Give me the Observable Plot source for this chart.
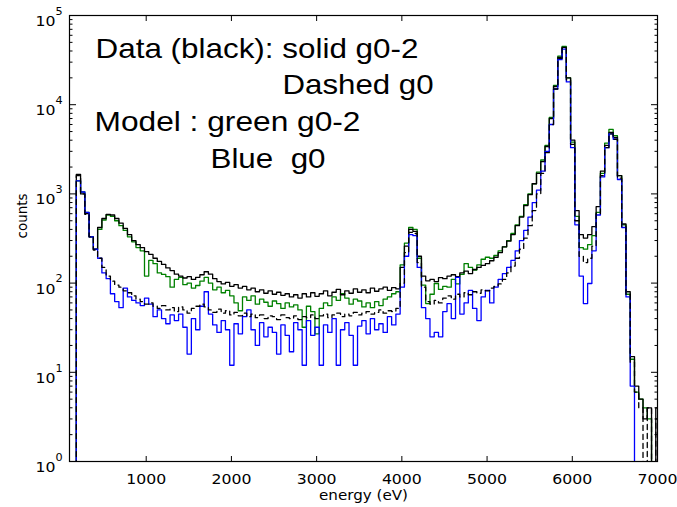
<!DOCTYPE html>
<html><head><meta charset="utf-8">
<script src="https://cdn.jsdelivr.net/npm/d3@7"></script>
<script src="https://cdn.jsdelivr.net/npm/@observablehq/plot@0.6"></script>
<style>body{margin:0;background:#fff}#chart{position:absolute;left:0;top:0}</style>
</head><body><div id="chart"></div>
<script>
// Histogram bins: first bin starts at 130 eV, width 50 eV
const binStart = 130, binWidth = 50;

// Data (black solid): g0-2
const dataG02 = [0,
1650,1000,600,330,240,420,530,590,580,530,470,410,350,300,270,250,225,210,190,175,
162,148,138,126,120,114,118,110,116,124,134,126,112,104,98,102,92,96,88,92,
84,88,80,84,77,82,75,79,73,76,70,74,68,76,70,78,71,76,82,72,
79,85,74,82,77,86,79,84,78,88,81,86,90,83,89,86,150,260,400,380,
200,120,106,110,104,115,112,120,124,118,130,136,128,142,150,158,165,178,195,220,
255,295,350,440,550,740,980,1300,1700,2300,3400,7000,16000,34000,44000,20000,4000,650,350,320,
350,430,720,1800,3500,4900,4300,1600,460,80,15,7,5,3,4,0,4];

// Data (black dashed): g0
const dataG0 = [0,
1600,1000,590,330,235,190,150,120,105,95,90,82,78,72,66,62,58,60,55,52,
56,50,53,48,54,50,46,52,55,58,54,50,47,51,46,49,44,47,43,46,
42,45,41,44,40,43,42,39,44,41,40,43,39,42,41,44,40,43,45,41,
44,46,42,45,43,47,44,46,48,45,47,50,46,49,48,52,100,220,370,360,
170,90,62,58,64,60,68,72,66,75,70,78,74,80,77,84,82,88,92,98,
110,130,155,190,240,320,440,650,1000,1700,2900,6000,15000,33000,43000,19000,3600,500,200,170,
190,260,600,1600,3300,4700,4100,1500,430,75,13,6,4,0,4,0,3];

// Model (green): g0-2
const modelG02 = [0,
1400,1050,620,330,240,400,510,580,560,500,440,390,330,290,250,230,120,180,165,130,
125,118,90,110,116,96,100,88,94,105,116,100,84,90,78,83,72,60,49,70,
64,72,58,66,61,55,63,59,52,60,54,57,50,32,55,48,27,52,60,56,
70,64,76,68,58,66,63,54,60,53,62,56,66,70,76,80,160,280,420,400,
190,95,59,75,99,85,92,90,110,98,125,165,150,140,160,185,195,190,205,230,
255,300,360,450,560,760,1000,1300,1750,2400,3500,7200,16500,35000,45000,20000,3800,560,250,240,
270,340,620,1700,3700,5300,4500,1600,450,75,14,6,5,4,3,0,0];

// Model (blue): g0
const modelG0 = [0,
1400,1050,620,330,240,190,130,112,76,62,53,88,70,64,60,56,68,58,42,50,
40,35,44,38,45,32,16,40,30,55,80,45,34,28,38,30,12,35,27,42,
50,30,20,36,25,32,28,16,34,26,17,36,30,12,38,26,32,12,34,28,
40,12,30,36,26,12,33,38,27,40,30,35,28,42,34,45,90,200,350,340,
150,53,40,25,28,25,48,59,40,116,45,60,83,52,38,70,83,60,90,110,
128,150,180,230,300,390,550,800,1100,1800,3000,6000,15000,32000,42000,18000,3300,450,120,59,
99,230,580,1550,3300,4700,4100,1450,420,70,7,0,0,0,0,0,0];

const xTicks = [1000, 2000, 3000, 4000, 5000, 6000, 7000];
const xTickLabels = ["1000", "2000", "3000", "4000", "5000", "6000", "7000"];
const yTicks = [1, 10, 100, 1000, 10000, 100000];
const yTickBase = "10";
const yTickExponents = ["0", "1", "2", "3", "4", "5"];
const annotations = ["Data (black): solid g0-2", "Dashed g0", "Model : green g0-2", "Blue  g0"];
const xLabel = "energy (eV)";
const yLabel = "counts";

const yMinor = [];
for (const t of yTicks.slice(0, -1)) for (let m = 2; m <= 9; m++) yMinor.push(t * m);

function steps(values) {
  const pts = values.map((v, i) => ({e: binStart + i * binWidth, v: v > 0 ? v : 0.5}));
  pts.push({e: binStart + values.length * binWidth, v: pts[pts.length - 1].v});
  return pts;
}

const lineOpts = {x: "e", y: "v", curve: "step-after", clip: true, strokeWidth: 1.3};

const chart = Plot.plot({
  width: 677, height: 507,
  marginLeft: 69, marginRight: 20, marginTop: 15, marginBottom: 46,
  style: {fontFamily: "DejaVu Sans", fontSize: "14px", background: "#fff", color: "#000"},
  x: {domain: [100, 7000]},
  y: {type: "log", domain: [1, 100000]},
  marks: [
    Plot.line(steps(modelG02), {...lineOpts, stroke: "#008000"}),
    Plot.line(steps(dataG02), {...lineOpts, stroke: "#000"}),
    Plot.line(steps(modelG0), {...lineOpts, stroke: "#0000ff"}),
    Plot.line(steps(dataG0), {...lineOpts, stroke: "#000", strokeDasharray: "5,4"}),
    Plot.frame({stroke: "#000", strokeWidth: 1.2}),
    // inward ticks
    Plot.axisX({ticks: xTicks, anchor: "bottom", tickSize: 5, dy: -5, tickFormat: () => "", label: null}),
    Plot.axisX({ticks: xTicks, anchor: "top", tickSize: 5, dy: 5, tickFormat: () => "", label: null}),
    Plot.axisY({ticks: yTicks, anchor: "left", tickSize: 7, dx: 7, tickFormat: () => "", label: null}),
    Plot.axisY({ticks: yTicks, anchor: "right", tickSize: 7, dx: -7, tickFormat: () => "", label: null}),
    Plot.axisY({ticks: yMinor, anchor: "left", tickSize: 3.5, dx: 3.5, tickFormat: () => "", label: null}),
    Plot.axisY({ticks: yMinor, anchor: "right", tickSize: 3.5, dx: -3.5, tickFormat: () => "", label: null}),
    // tick labels
    Plot.text(xTicks, {x: d => d, frameAnchor: "bottom", text: (d, i) => xTickLabels[i], dy: 18, lineAnchor: "middle", fontSize: 14}),
    Plot.text(yTicks, {y: d => d, frameAnchor: "left", text: () => yTickBase, dx: -14, dy: 6, textAnchor: "end", fontSize: 14}),
    Plot.text(yTicks, {y: d => d, frameAnchor: "left", text: (d, i) => yTickExponents[i], dx: -14, dy: -4, textAnchor: "start", fontSize: 10}),
    // axis labels
    Plot.text([xLabel], {frameAnchor: "bottom", dy: 34, lineAnchor: "middle", fontSize: 13.5}),
    Plot.text([yLabel], {frameAnchor: "left", dx: -47, rotate: -90, lineAnchor: "middle", fontSize: 13.5}),
    // annotations
    Plot.text([annotations[0]], {frameAnchor: "top-left", dx: 26, dy: 42, lineAnchor: "bottom", textAnchor: "start", fontSize: 28, fontFamily: "Liberation Sans"}),
    Plot.text([annotations[1]], {frameAnchor: "top-left", dx: 213, dy: 78, lineAnchor: "bottom", textAnchor: "start", fontSize: 28, fontFamily: "Liberation Sans"}),
    Plot.text([annotations[2]], {frameAnchor: "top-left", dx: 25, dy: 115, lineAnchor: "bottom", textAnchor: "start", fontSize: 28, fontFamily: "Liberation Sans"}),
    Plot.text([annotations[3]], {frameAnchor: "top-left", dx: 141, dy: 152, lineAnchor: "bottom", textAnchor: "start", fontSize: 28, fontFamily: "Liberation Sans", style: "white-space:pre"})
  ]
});
document.getElementById("chart").append(chart);

// horizontal stretch of text to match the reference proportions
const annWidths = {"Data (black): solid g0-2": 323, "Dashed g0": 151, "Model : green g0-2": 266, "Blue  g0": 115};
chart.querySelectorAll("text").forEach(t => {
  const s = t.textContent;
  if (!s) return;
  const tr = (t.getAttribute("transform") || "") + (t.parentNode.getAttribute("transform") || "");
  if (tr.includes("rotate")) return;
  t.setAttribute("xml:space", "preserve");
  t.style.whiteSpace = "pre";
  const len = t.getComputedTextLength();
  const target = annWidths[s] ?? len * 1.12;
  t.setAttribute("textLength", target);
  t.setAttribute("lengthAdjust", "spacingAndGlyphs");
});
</script>
</body></html>
